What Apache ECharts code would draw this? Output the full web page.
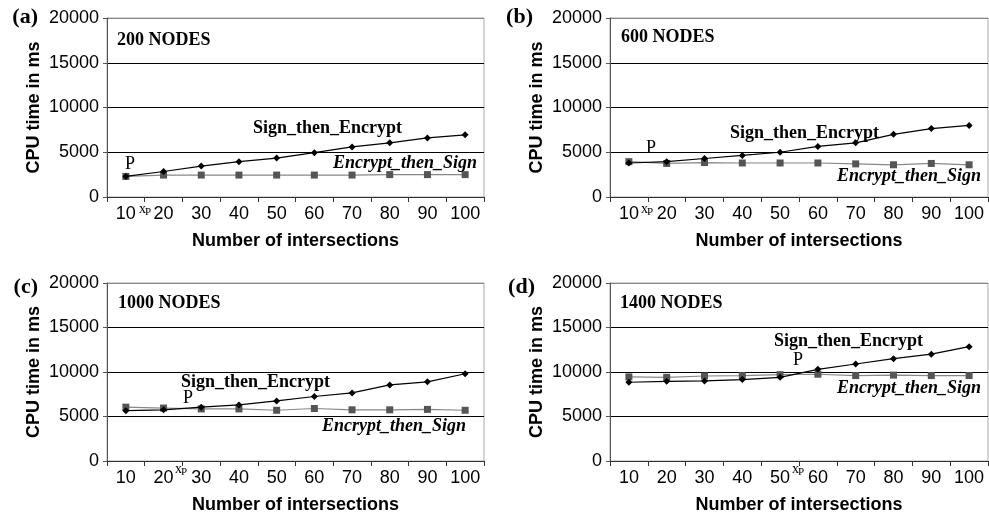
<!DOCTYPE html>
<html>
<head>
<meta charset="utf-8">
<script src="https://cdn.jsdelivr.net/npm/echarts@6/dist/echarts.min.js"></script>
<style>html,body{margin:0;padding:0;background:#fff;}#chart{width:989px;height:519px;}</style>
</head>
<body>
<div id="chart"></div>
<script>
const categories = ['10','20','30','40','50','60','70','80','90','100'];
const yTicks = [0, 5000, 10000, 15000, 20000];
const panelLetters = ['(a)','(b)','(c)','(d)'];
const panelTitles = ['200 NODES','600 NODES','1000 NODES','1400 NODES'];

const signA = [2300, 2850, 3450, 3950, 4350, 4950, 5600, 6050, 6600, 6950];
const encA  = [2300, 2450, 2450, 2450, 2450, 2450, 2450, 2500, 2500, 2500];
const signB = [3800, 3950, 4300, 4650, 5000, 5650, 6050, 7000, 7650, 8000];
const encB  = [3950, 3750, 3850, 3800, 3800, 3800, 3700, 3600, 3750, 3600];
const signC = [5650, 5750, 6050, 6300, 6750, 7250, 7650, 8550, 8900, 9800];
const encC  = [6050, 5950, 5850, 5850, 5700, 5900, 5750, 5750, 5800, 5700];
const signD = [8850, 8950, 9000, 9150, 9400, 10300, 10900, 11500, 12000, 12850];
const encD  = [9450, 9400, 9550, 9600, 9700, 9750, 9600, 9650, 9600, 9600];

const signSeries = [signA, signB, signC, signD];
const encSeries = [encA, encB, encC, encD];

const grids = [
  {left: 107, top: 18, width: 377, height: 179},
  {left: 610, top: 18, width: 378, height: 179},
  {left: 107, top: 283, width: 377, height: 178},
  {left: 610, top: 283, width: 378, height: 178}
];

const axisFont = 'Liberation Sans, Arial, sans-serif';
const serif = 'Liberation Serif, Times New Roman, serif';

const option = {
  animation: false,
  backgroundColor: '#fff',
  grid: grids.map(g => Object.assign({show: true, borderColor: '#aaa', borderWidth: 1, backgroundColor: 'transparent'}, g)),
  xAxis: grids.map((g, i) => ({
    type: 'category', gridIndex: i, data: categories, boundaryGap: true,
    axisLine: {lineStyle: {color: '#333', width: 1}},
    axisTick: {show: true, length: 5, lineStyle: {color: '#333'}},
    axisLabel: {fontSize: 18, color: '#000', fontFamily: axisFont, margin: 8, interval: 0},
    name: 'Number of intersections', nameLocation: 'middle', nameGap: 35,
    nameTextStyle: {fontSize: 18, fontWeight: 'bold', color: '#000', fontFamily: axisFont}
  })),
  yAxis: grids.map((g, i) => ({
    type: 'value', gridIndex: i, min: yTicks[0], max: yTicks[yTicks.length - 1], interval: 5000,
    axisLine: {show: true, lineStyle: {color: '#555'}},
    axisTick: {show: true, length: 4, lineStyle: {color: '#555'}},
    axisLabel: {fontSize: 18, color: '#000', fontFamily: axisFont, margin: 8, formatter: v => String(v)},
    splitLine: {show: true, lineStyle: {color: ['#000', '#000', '#000', '#000', '#888'], width: 1}},
    name: 'CPU time in ms', nameLocation: 'middle', nameGap: 64,
    nameTextStyle: {fontSize: 18, fontWeight: 'bold', color: '#000', fontFamily: axisFont}
  })),
  series: []
};

for (let i = 0; i < 4; i++) {
  option.series.push({
    name: 'Encrypt_then_Sign', type: 'line', xAxisIndex: i, yAxisIndex: i,
    data: encSeries[i], symbol: 'rect', symbolSize: 7,
    lineStyle: {color: '#888', width: 1.2},
    itemStyle: {color: '#555'}, z: 3
  });
  option.series.push({
    name: 'Sign_then_Encrypt', type: 'line', xAxisIndex: i, yAxisIndex: i,
    data: signSeries[i], symbol: 'diamond', symbolSize: 7,
    lineStyle: {color: '#000', width: 1.2},
    itemStyle: {color: '#000'}, z: 4
  });
}

function txt(x, y, text, font, align) {
  return {type: 'text', x: x, y: y, z: 100,
    style: {text: text, font: font, fill: '#000', align: align || 'center', verticalAlign: 'middle'}};
}
function xp(x, y, dy) {
  return [
    txt(x, y, 'x', '14px ' + serif, 'left'),
    txt(x + 6, y + dy, 'P', '11px ' + serif, 'left')
  ];
}

const boldSerif = 'bold 18px ' + serif;
const biSerif = 'italic bold 18px ' + serif;
const normSerif = '18px ' + serif;
const letterFont = 'bold 22px ' + serif;

option.graphic = [
  txt(38, 17, panelLetters[0], letterFont, 'right'),
  txt(533, 17, panelLetters[1], letterFont, 'right'),
  txt(38, 287, panelLetters[2], letterFont, 'right'),
  txt(535, 287, panelLetters[3], letterFont, 'right'),
  txt(117, 40, panelTitles[0], boldSerif, 'left'),
  txt(621, 37, panelTitles[1], boldSerif, 'left'),
  txt(118, 303, panelTitles[2], boldSerif, 'left'),
  txt(620, 303, panelTitles[3], boldSerif, 'left'),
  txt(253, 128, 'Sign_then_Encrypt', boldSerif, 'left'),
  txt(333, 163, 'Encrypt_then_Sign', biSerif, 'left'),
  txt(730, 133, 'Sign_then_Encrypt', boldSerif, 'left'),
  txt(837, 176, 'Encrypt_then_Sign', biSerif, 'left'),
  txt(181, 382, 'Sign_then_Encrypt', boldSerif, 'left'),
  txt(322, 426, 'Encrypt_then_Sign', biSerif, 'left'),
  txt(774, 341, 'Sign_then_Encrypt', boldSerif, 'left'),
  txt(837, 388, 'Encrypt_then_Sign', biSerif, 'left'),
  txt(130, 164, 'P', normSerif),
  txt(651, 148, 'P', normSerif),
  txt(188, 398, 'P', normSerif),
  txt(798, 360, 'P', normSerif)
].concat(xp(139, 209, 3), xp(641, 209, 3), xp(175, 469, 3), xp(792, 469, 3));

const chart = echarts.init(document.getElementById('chart'), null, {renderer: 'canvas'});
chart.setOption(option);
</script>
</body>
</html>
